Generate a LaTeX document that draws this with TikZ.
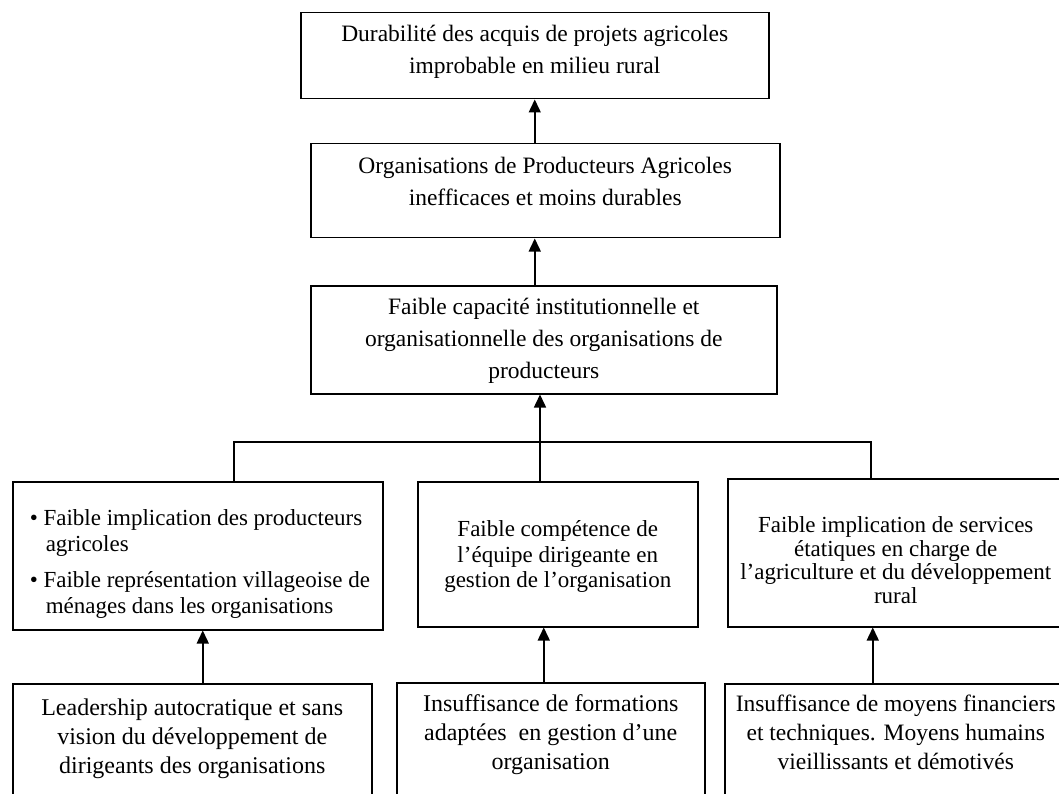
\documentclass[tikz,border=0pt]{standalone}
\usepackage{fontspec}
\setmainfont{Liberation Serif}
\usetikzlibrary{arrows.meta}
\setlength{\lineskiplimit}{-20pt}
\tikzset{
  box/.style={draw, line width=1.5pt, inner sep=0pt, anchor=north west},
  upbox/.style={box, font=\fontsize{23.5}{32}\selectfont},
  midbox/.style={box, font=\fontsize{23}{25.5}\selectfont},
  lowbox/.style={box, font=\fontsize{24}{29}\selectfont},
  arr/.style={-{Triangle[length=13pt,width=12pt]}, line width=1.5pt},
}
\begin{document}
\begin{tikzpicture}[x=1pt,y=-1pt]
  \useasboundingbox (0,0) rectangle (1059,794);
  \clip (0,0) rectangle (1059,794);
  \draw
    (300,12) node[upbox] (dur)
      {\parbox[t][86pt][t]{468pt}{\centering\rule{0pt}{29pt}Durabilité des acquis de projets agricoles\\improbable en milieu rural}}
    (310,143) node[upbox] (opa)
      {\parbox[t][94pt][t]{469pt}{\centering\rule{0pt}{30pt}Organisations de Producteurs Agricoles\\inefficaces et moins durables}}
    (310,285) node[upbox] (cap)
      {\parbox[t][108pt][t]{466pt}{\centering\rule{0pt}{29pt}Faible capacité institutionnelle et\\organisationnelle des organisations de\\producteurs}}
    (12,481) node[midbox] (impl)
      {\parbox[t][148pt][t]{370pt}{\raggedright\rule{0pt}{44pt}\hspace*{17pt}\textbullet\ Faible implication des producteurs\\\hspace*{33pt}agricoles\\[11pt]
       \hspace*{17pt}\textbullet\ Faible représentation villageoise de\\\hspace*{33pt}ménages dans les organisations}}
    (417,481) node[midbox] (comp)
      {\parbox[t][145pt][t]{280pt}{\centering\rule{0pt}{55pt}Faible compétence de\\l'équipe dirigeante en\\gestion de l'organisation}}
    (727,478) node[midbox, font=\fontsize{23}{23.5}\selectfont] (serv)
      {\parbox[t][148pt][t]{336pt}{\centering\rule{0pt}{54pt}Faible implication de services\\étatiques en charge de\\l'agriculture et du développement\\rural}}
    (12,683) node[lowbox] (lead)
      {\parbox[t][140pt][t]{359pt}{\centering\rule{0pt}{32pt}Leadership autocratique et sans\\vision du développement de\\dirigeants des organisations}}
    (396,682) node[lowbox] (form)
      {\parbox[t][140pt][t]{308pt}{\centering\rule{0pt}{29pt}Insuffisance de formations\\adaptées ~en gestion d'une\\organisation}}
    (724,683) node[lowbox, font=\fontsize{23.5}{29}\selectfont] (moy)
      {\parbox[t][140pt][t]{342pt}{\centering\rule{0pt}{28pt}Insuffisance de moyens financiers\\et techniques. Moyens humains\\vieillissants et démotivés}};
  \coordinate (hub) at (540,442);
  \coordinate (hl) at (234,442);
  \coordinate (hr) at (871,442);
  \draw[line width=1.5pt] (hl |- impl.north) -- (hl) -- (hr) -- (hr |- serv.north);
  \draw[line width=1.5pt] (hub) -- (hub |- comp.north);
  \begin{scope}[arr]
    \draw (opa.north -| dur.south) to (dur.south);
    \draw (cap.north -| dur.south) to (opa.south -| dur.south);
    \draw (hub) to (hub |- cap.south);
    \draw ([xshift=10.5pt]lead.north) to ([xshift=10.5pt]lead.north |- impl.south);
    \draw ([xshift=-7pt]form.north) to ([xshift=-7pt]form.north |- comp.south);
    \draw ([xshift=-23pt]moy.north) to ([xshift=-23pt]moy.north |- serv.south);
  \end{scope}
\end{tikzpicture}
\end{document}
